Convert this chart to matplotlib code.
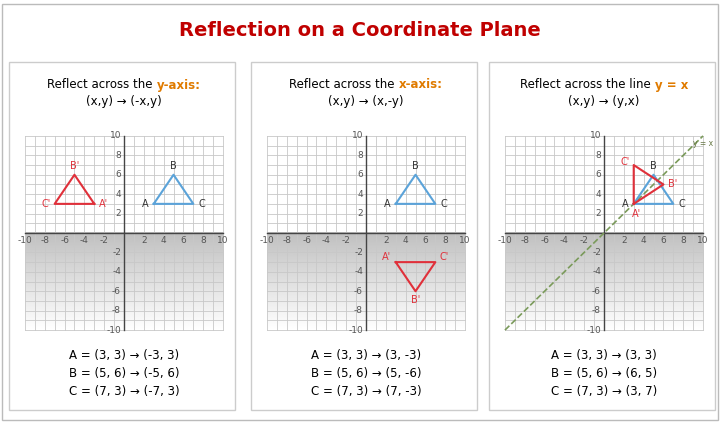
import numpy as np
import matplotlib.pyplot as plt
from matplotlib.patches import Rectangle

# data
tri_x = [3, 5, 7]
tri_y = [3, 6, 3]
labels = ["A", "B", "C"]
headers = ["Reflect across the ", "Reflect across the ", "Reflect across the line "]
header_key = ["y-axis:", "x-axis:", "y = x"]
rules = ["(x,y) \u2192 (-x,y)", "(x,y) \u2192 (x,-y)", "(x,y) \u2192 (y,x)"]
results = [
    ["A = (3, 3) \u2192 (-3, 3)", "B = (5, 6) \u2192 (-5, 6)", "C = (7, 3) \u2192 (-7, 3)"],
    ["A = (3, 3) \u2192 (3, -3)", "B = (5, 6) \u2192 (5, -6)", "C = (7, 3) \u2192 (7, -3)"],
    ["A = (3, 3) \u2192 (3, 3)", "B = (5, 6) \u2192 (6, 5)", "C = (7, 3) \u2192 (3, 7)"],
]

def reflect(i, x, y):
    if i == 0:
        return [-v for v in x], list(y)
    if i == 1:
        return list(x), [-v for v in y]
    return list(y), list(x)

fig = plt.figure(figsize=(7.2, 4.22), dpi=100)
fig.patch.set_facecolor("white")
W, H = 720, 422
fig.text(0.5, 1 - 30 / H, "Reflection on a Coordinate Plane", ha="center", va="center",
         fontsize=14, color="#c00000", fontweight="bold")
fig.add_artist(Rectangle((2 / W, 2 / H), 716 / W, 416 / H, transform=fig.transFigure,
                         fill=False, ec="#bbbbbb", lw=1))

blue = "#5ba3d9"
red = "#e0303a"
lefts = [20, 262, 500]
fs = 8.5
for i in range(3):
    cx = (lefts[i] + 104) / W
    fig.add_artist(Rectangle(((lefts[i] - 11) / W, 12 / H), 226 / W, 348 / H,
                             transform=fig.transFigure, fill=False, ec="#cccccc", lw=1))
    t1 = fig.text(0, 1 - 85 / H, headers[i], ha="left", va="center", fontsize=fs)
    t2 = fig.text(0, 1 - 85 / H, header_key[i], ha="left", va="center", fontsize=fs,
                  color="#e07b00", fontweight="bold")
    fig.canvas.draw()
    w1 = t1.get_window_extent().width
    w2 = t2.get_window_extent().width
    x0 = cx * W - (w1 + w2) / 2
    t1.set_x(x0 / W)
    t2.set_x((x0 + w1) / W)
    fig.text(cx, 1 - 102 / H, rules[i], ha="center", va="center", fontsize=fs)
    for k, line in enumerate(results[i]):
        fig.text(cx, 1 - (355 + k * 18) / H, line, ha="center", va="center", fontsize=fs)

    ax = fig.add_axes([lefts[i] / W, 1 - 333 / H, 208 / W, 200 / H])
    ax.set_xlim(-10.5, 10.5)
    ax.set_ylim(-10.3, 10.3)
    grad = np.linspace(0.75, 1.0, 100).reshape(-1, 1)
    ax.imshow(grad, extent=[-10, 10, -10, 0], cmap="gray", vmin=0, vmax=1, aspect="auto", zorder=0)
    for v in range(-10, 11):
        ax.plot([v, v], [-10, 10], color="#c8c8c8", lw=0.6, zorder=1)
        ax.plot([-10, 10], [v, v], color="#c8c8c8", lw=0.6, zorder=1)
    ax.plot([-10, 10], [0, 0], color="#444444", lw=1, zorder=2)
    ax.plot([0, 0], [-10, 10], color="#444444", lw=1, zorder=2)
    for v in range(-10, 11, 2):
        if v == 0:
            continue
        ax.text(v, -0.3, str(v), ha="center", va="top", fontsize=6.5, color="#555555")
        ax.text(-0.3, v, str(v), ha="right", va="center", fontsize=6.5, color="#555555")
    ax.axis("off")

    ax.plot(tri_x + [tri_x[0]], tri_y + [tri_y[0]], color=blue, lw=1.5, zorder=3)
    for x, y, lab, dx in zip(tri_x, tri_y, labels, [-0.9, 0, 0.9]):
        ax.text(x + dx, y + (0.9 if lab == "B" else 0), lab, ha="center", va="center",
                fontsize=7, color="#333333", zorder=4)
    rx, ry = reflect(i, tri_x, tri_y)
    ax.plot(rx + [rx[0]], ry + [ry[0]], color=red, lw=1.5, zorder=3)
    offs = [[(0.9, 0), (0, 0.9), (-0.9, 0)],
            [(-0.9, 0.5), (0, -0.9), (0.9, 0.5)],
            [(0.3, -1.0), (0.9, 0), (-0.9, 0.3)]][i]
    for x, y, lab, (dx, dy) in zip(rx, ry, labels, offs):
        ax.text(x + dx, y + dy, lab + "'", ha="center", va="center",
                fontsize=7, color=red, zorder=4)
    if i == 2:
        ax.plot([-10, 10], [-10, 10], color="#7a9a5a", lw=1.2, ls="--", zorder=2)
        ax.text(9.0, 9.2, "y = x", ha="left", va="center", fontsize=5.5, color="#667744",
                clip_on=False)

fig.savefig("out.png", dpi=100)
